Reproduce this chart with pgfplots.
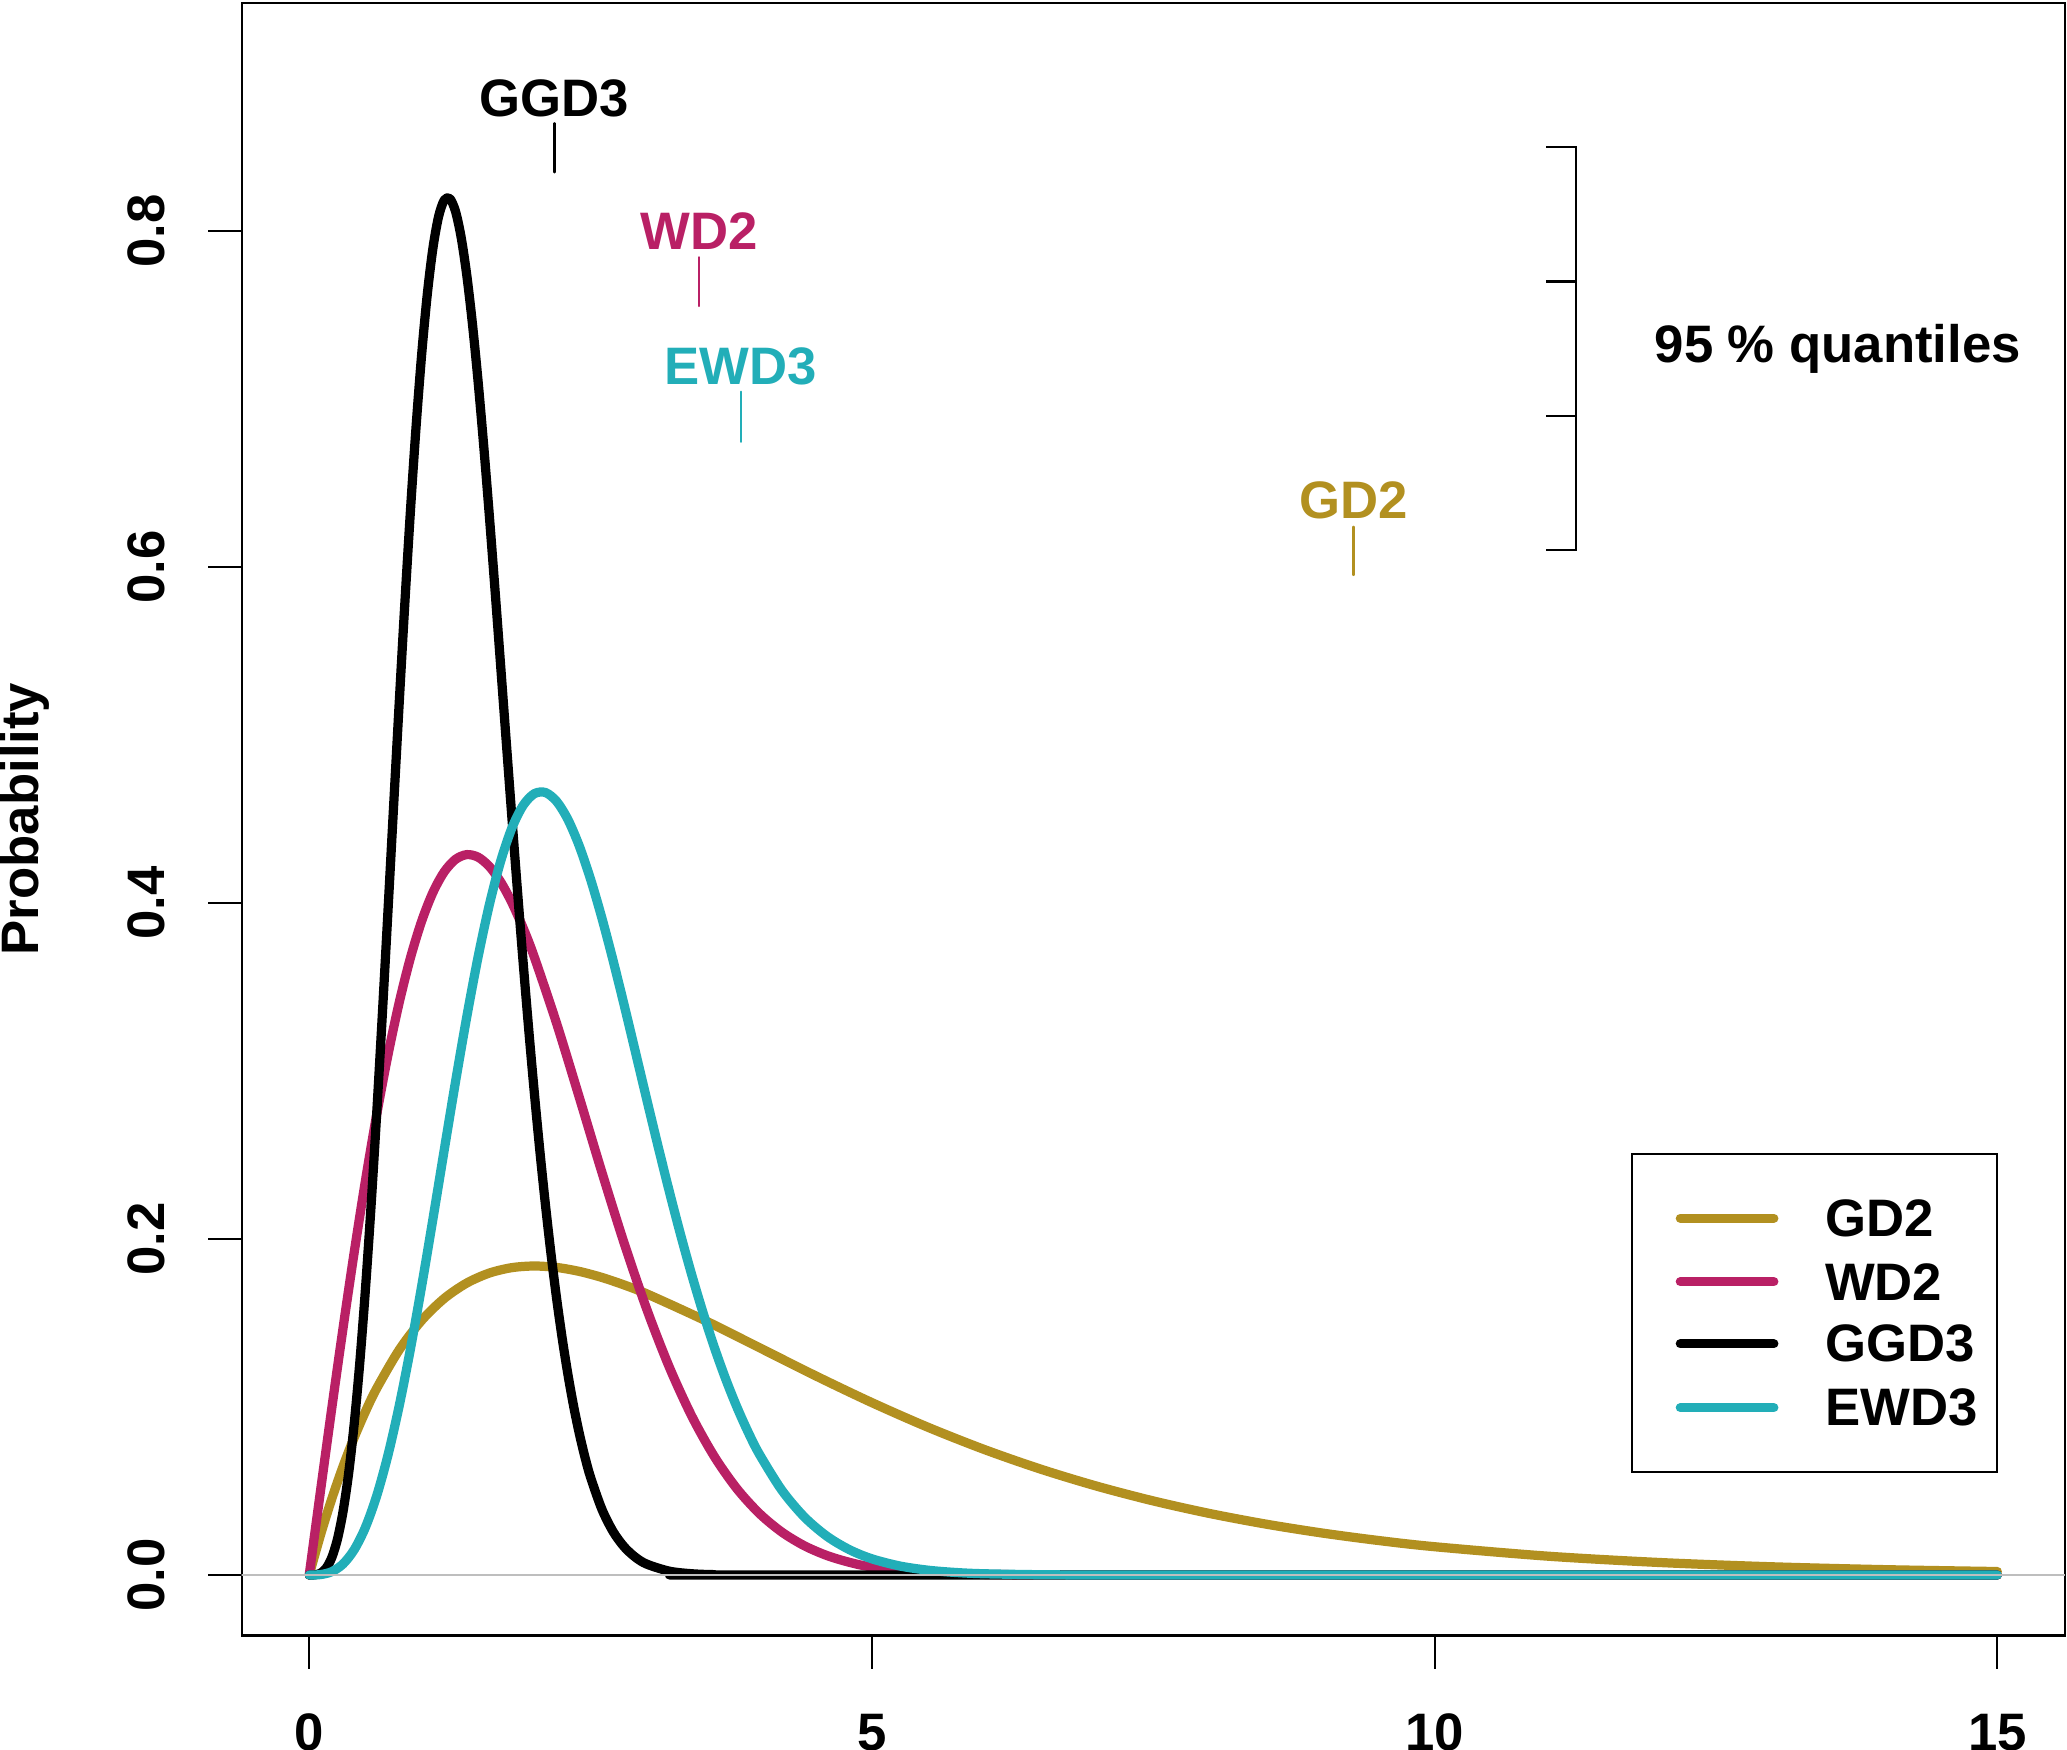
\documentclass[border=0pt]{standalone}
\usepackage{fontspec}
\setmainfont{Liberation Sans}
\usepackage{pgfplots}
\pgfplotsset{compat=1.18}
\definecolor{cgold}{RGB}{178,144,32}
\definecolor{cmag}{RGB}{185,32,101}
\definecolor{cteal}{RGB}{34,174,184}
\definecolor{cgray}{RGB}{190,190,190}
\begin{document}
\begin{tikzpicture}
\useasboundingbox (-45.84pt,-21.7pt) rectangle (346.2pt,310.2pt);
\clip (-45.84pt,-21.7pt) rectangle (346.2pt,310.2pt);
\begin{axis}[
  at={(0,0)}, anchor=south west,
  width=345.8pt, height=309.7pt, scale only axis,
  xmin=-0.6, xmax=15.6, ymin=-0.036, ymax=0.936,
  xtick={0,5,10,15}, xticklabels={0,5,10,15},
  ytick={0,0.2,0.4,0.6,0.8}, yticklabels={0.0,0.2,0.4,0.6,0.8},
  xtick pos=bottom, ytick pos=left,
  tick align=outside, major tick length=6.3pt,
  tick style={black, line width=0.4pt},
  axis line style={line width=0.4pt},
  font=\bfseries,
  ticklabel style={font=\bfseries},
  xticklabel style={anchor=north, inner sep=0pt, yshift=-8.4pt},
  yticklabel style={xshift=-8.1pt, rotate=90, anchor=south, inner sep=0pt},
  ylabel={Probability},
  every axis y label/.style={at={(axis description cs:-0.1191,0.5)}, rotate=90, anchor=center, inner sep=0pt, font=\bfseries},
  every axis plot/.append style={line cap=round, line join=round},
]
% GD2
\addplot[cgold, line width=1.75pt, smooth] coordinates {
(0,0) (0.1,0.02378) (0.2,0.04524) (0.3,0.06455) (0.4,0.08187) (0.5,0.09735) (0.6,0.11112) (0.8,0.13406) (1.0,0.15163) (1.2,0.16464) (1.4,0.17380) (1.6,0.17973) (1.8,0.18296) (2.0,0.18394) (2.2,0.18308) (2.4,0.18072) (2.6,0.17715) (2.8,0.17262) (3.0,0.16735) (3.5,0.15205) (4.0,0.13534) (4.5,0.11857) (5.0,0.10261) (5.5,0.08790) (6.0,0.07468) (6.5,0.06301) (7.0,0.05285) (7.5,0.04410) (8.0,0.03663) (8.5,0.03031) (9.0,0.02500) (9.5,0.02055) (10,0.01684) (11,0.01124) (12,0.00744) (13,0.00489) (14,0.00319) (15,0.00207)};
% WD2
\addplot[cmag, line width=1.75pt, smooth] coordinates {
(0,0) (0.1,0.04988) (0.2,0.09900) (0.3,0.14666) (0.4,0.19216) (0.5,0.23485) (0.6,0.27418) (0.7,0.30965) (0.8,0.34086) (0.9,0.36751) (1.0,0.38940) (1.1,0.40643) (1.2,0.41861) (1.3,0.42601) (1.4,0.42884) (1.5,0.42734) (1.6,0.42183) (1.7,0.41271) (1.8,0.40037) (1.9,0.38530) (2.0,0.36788) (2.2,0.32802) (2.4,0.28431) (2.6,0.23988) (2.8,0.19720) (3.0,0.15810) (3.2,0.12369) (3.4,0.09448) (3.6,0.07050) (3.8,0.05140) (4.0,0.03663) (4.2,0.02553) (4.4,0.01740) (4.6,0.01160) (4.8,0.00756) (5.0,0.00483) (5.5,0.00143) (6.0,0.00037) (7.0,0.00002) (8,0) (15,0)};
% GGD3
\addplot[black, line width=1.75pt, smooth] coordinates {
(0,0) (0.05,0.0001) (0.1,0.00105) (0.15,0.00402) (0.2,0.01029) (0.25,0.02110) (0.3,0.03752) (0.35,0.06033) (0.4,0.09009) (0.45,0.12686) (0.5,0.17040) (0.55,0.22011) (0.6,0.27506) (0.65,0.33395) (0.7,0.39541) (0.75,0.45782) (0.8,0.51947) (0.85,0.57872) (0.9,0.63402) (0.95,0.68390) (1.0,0.72717) (1.05,0.76284) (1.1,0.79018) (1.15,0.80876) (1.2,0.81844) (1.25,0.81931) (1.3,0.81176) (1.35,0.79634) (1.4,0.77380) (1.45,0.74502) (1.5,0.71096) (1.55,0.67263) (1.6,0.63107) (1.65,0.58730) (1.7,0.54225) (1.75,0.49681) (1.8,0.45175) (1.85,0.40777) (1.9,0.36542) (1.95,0.32515) (2.0,0.28731) (2.05,0.25213) (2.1,0.21980) (2.15,0.19034) (2.2,0.16375) (2.25,0.13999) (2.3,0.11891) (2.35,0.10036) (2.4,0.08422) (2.45,0.07021) (2.5,0.05818) (2.6,0.03925) (2.7,0.02587) (2.8,0.01666) (2.9,0.01049) (3.0,0.00646) (3.2,0.00229) (3.4,0.00075) (3.6,0.00022) (4.0,0) (15,0)};
% EWD3
\addplot[cteal, line width=1.75pt, smooth] coordinates {
(0,0) (0.1,0.00025) (0.2,0.00197) (0.3,0.00653) (0.4,0.01507) (0.5,0.02846) (0.6,0.04720) (0.7,0.07140) (0.8,0.10080) (0.9,0.13474) (1.0,0.17227) (1.1,0.21219) (1.2,0.25311) (1.3,0.29361) (1.4,0.33224) (1.5,0.36770) (1.6,0.39881) (1.7,0.42465) (1.8,0.44452) (1.9,0.45806) (2.0,0.46509) (2.1,0.46578) (2.2,0.46040) (2.3,0.44957) (2.4,0.43391) (2.5,0.41419) (2.6,0.39123) (2.7,0.36585) (2.8,0.33885) (2.9,0.31097) (3.0,0.28287) (3.1,0.25514) (3.2,0.22825) (3.3,0.20258) (3.4,0.17846) (3.5,0.15604) (3.6,0.13547) (3.7,0.11678) (3.8,0.10002) (3.9,0.08508) (4.0,0.07192) (4.2,0.05043) (4.4,0.03452) (4.6,0.02308) (4.8,0.01508) (5.0,0.00963) (5.25,0.00534) (5.5,0.00286) (5.75,0.00148) (6.0,0.00074) (6.5,0.00017) (7.0,0.00003) (8,0) (15,0)};
% zero line
\addplot[cgray, line width=0.4pt] coordinates {(-0.6,0) (15.6,0)};
% 95% quantile markers
\addplot[black, line width=0.45pt] coordinates {(2.178,0.8350) (2.178,0.8642)};
\addplot[cmag, line width=0.45pt] coordinates {(3.462,0.7554) (3.462,0.7844)};
\addplot[cteal, line width=0.45pt] coordinates {(3.835,0.6746) (3.835,0.7044)};
\addplot[cgold, line width=0.45pt] coordinates {(9.28,0.5953) (9.28,0.6240)};
\node[anchor=base, inner sep=0pt, text=black] at (axis cs:2.178,0.8685) {GGD3};
\node[anchor=base, inner sep=0pt, text=cmag] at (axis cs:3.462,0.7892) {WD2};
\node[anchor=base, inner sep=0pt, text=cteal] at (axis cs:3.835,0.7084) {EWD3};
\node[anchor=base, inner sep=0pt, text=cgold] at (axis cs:9.28,0.6290) {GD2};
% bracket
\addplot[black, line width=0.45pt, line cap=butt, line join=miter] coordinates {(10.993,0.85) (11.254,0.85) (11.254,0.61) (10.993,0.61)};
\addplot[black, line width=0.45pt, line cap=butt] coordinates {(10.993,0.77) (11.254,0.77)};
\addplot[black, line width=0.45pt, line cap=butt] coordinates {(10.993,0.69) (11.254,0.69)};
\node[anchor=base west, inner sep=0pt] at (axis cs:11.946,0.7219) {95 \% quantiles};
% legend
\draw[line width=0.4pt] (axis cs:11.751,0.0615) rectangle (axis cs:15.0,0.2506);
\addplot[cgold, line width=1.75pt] coordinates {(12.183,0.2124) (13.014,0.2124)};
\addplot[cmag, line width=1.75pt] coordinates {(12.183,0.1746) (13.014,0.1746)};
\addplot[black, line width=1.75pt] coordinates {(12.183,0.1376) (13.014,0.1376)};
\addplot[cteal, line width=1.75pt] coordinates {(12.183,0.0996) (13.014,0.0996)};
\node[anchor=west, inner sep=0pt] at (axis cs:13.46,0.2124) {GD2};
\node[anchor=west, inner sep=0pt] at (axis cs:13.46,0.1746) {WD2};
\node[anchor=west, inner sep=0pt] at (axis cs:13.46,0.1376) {GGD3};
\node[anchor=west, inner sep=0pt] at (axis cs:13.46,0.0996) {EWD3};
\end{axis}
\end{tikzpicture}
\end{document}
